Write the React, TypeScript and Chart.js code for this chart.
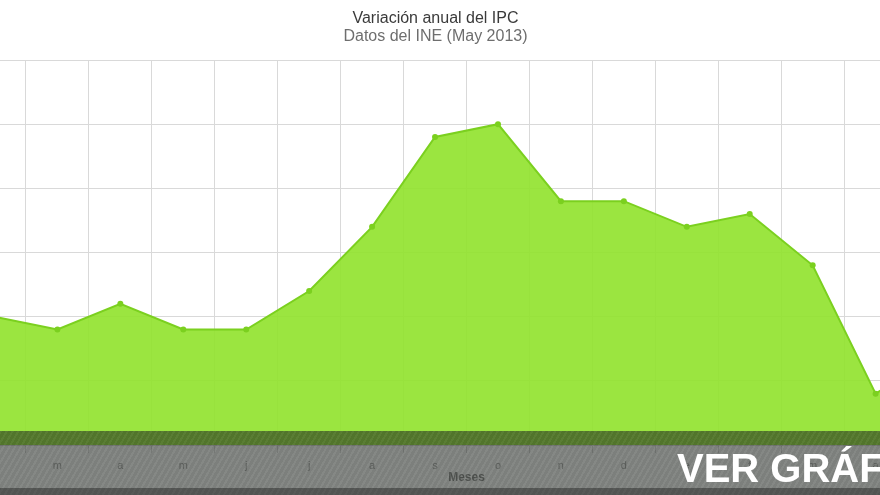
import React, { useEffect, useRef } from "react";
import { Chart, registerables } from "chart.js";

Chart.register(...registerables);

// Data (INE, variación anual del IPC, Feb 2012 – May 2013)
const months = ["f", "m", "a", "m", "j", "j", "a", "s", "o", "n", "d", "e", "f", "m", "a", "m"];
const ipc = [2.0, 1.9, 2.1, 1.9, 1.9, 2.2, 2.7, 3.4, 3.5, 2.9, 2.9, 2.7, 2.8, 2.4, 1.4, 1.7];
const titleText = "Variación anual del IPC";
const subtitleText = "Datos del INE (May 2013)";
const xAxisTitle = "Meses";
const yMin = 1;
const yMax = 4;
const yStep = 0.5;
const bannerText = "VER GRÁFICO";

const FONT = '"Liberation Sans", Arial, Helvetica, sans-serif';

export default function App() {
  const ref = useRef<HTMLCanvasElement | null>(null);

  useEffect(() => {
    if (!ref.current) return;
    Chart.defaults.font.family = FONT;
    const chart = new Chart(ref.current, {
      type: "line",
      data: {
        labels: months,
        datasets: [
          {
            data: ipc,
            fill: "start",
            backgroundColor: "rgba(144,226,43,0.9)",
            borderColor: "#7bd01f",
            borderWidth: 2,
            pointRadius: 3,
            pointBackgroundColor: "#7bd01f",
            pointBorderWidth: 0,
            tension: 0,
          },
        ],
      },
      options: {
        responsive: false,
        animation: false,
        layout: { padding: 0 },
        plugins: {
          legend: { display: false },
          tooltip: { enabled: false },
          title: {
            display: true,
            text: titleText,
            color: "#3a3a3a",
            font: { family: FONT, size: 16, weight: "normal", lineHeight: 1 },
            padding: { top: 11, bottom: 0 },
          },
          subtitle: {
            display: true,
            text: subtitleText,
            color: "#6e6e6e",
            font: { family: FONT, size: 16, weight: "normal", lineHeight: 1 },
            padding: { top: 2, bottom: 15 },
          },
        },
        scales: {
          x: {
            offset: true,
            grid: { offset: true, color: "#d9d9d9", lineWidth: 1, drawTicks: true, tickLength: 8 },
            border: { display: false },
            ticks: { color: "#a8a8a8", font: { size: 11 }, padding: 6, maxRotation: 0, autoSkip: false },
            title: {
              display: true,
              text: xAxisTitle,
              color: "#8a8a8a",
              font: { size: 12, weight: "bold" },
              padding: { top: 10, bottom: 10 },
            },
            afterFit: (s: any) => {
              s.height = 50;
            },
          },
          y: {
            min: yMin,
            max: yMax,
            ticks: { display: false, stepSize: yStep },
            grid: { color: "#d9d9d9", lineWidth: 1, drawTicks: false },
            border: { display: false },
            afterFit: (s: any) => {
              s.width = 66;
            },
          },
        },
      },
    });
    return () => chart.destroy();
  }, []);

  return (
    <div
      style={{
        position: "fixed",
        left: 0,
        top: 0,
        width: 880,
        height: 495,
        overflow: "hidden",
        background: "#fff",
      }}
    >
      <canvas ref={ref} width={1077} height={495} style={{ position: "absolute", left: -103, top: 0 }} />
      <div
        style={{
          position: "absolute",
          left: 0,
          top: 431,
          width: 880,
          height: 64,
          background: "rgba(30,36,30,0.56)",
          backgroundImage:
            "repeating-linear-gradient(120deg, rgba(255,255,255,0.035) 0px, rgba(255,255,255,0.035) 2px, rgba(0,0,0,0.03) 2px, rgba(0,0,0,0.03) 5px)",
        }}
      />
      <div
        style={{
          position: "absolute",
          left: 0,
          top: 488,
          width: 880,
          height: 7,
          background: "rgba(0,0,0,0.35)",
        }}
      />
      <div
        style={{
          position: "absolute",
          left: 677,
          top: 448,
          fontFamily: FONT,
          fontWeight: "bold",
          fontSize: 40,
          lineHeight: "40px",
          color: "#fff",
          whiteSpace: "nowrap",
        }}
      >
        {bannerText}
      </div>
    </div>
  );
}
